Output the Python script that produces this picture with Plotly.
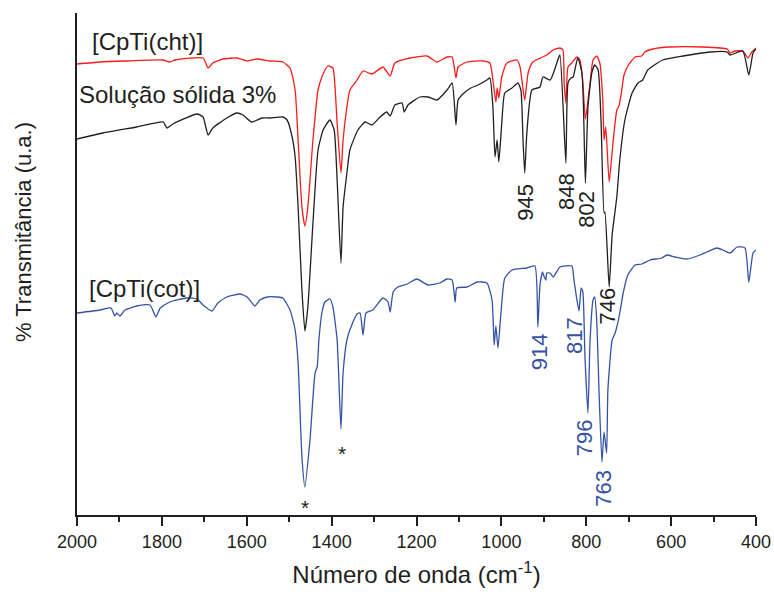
import plotly.graph_objects as go

# FTIR spectra, 2000-400 cm-1, stacked with vertical offsets (arbitrary units)

# [CpTi(cht)] - red trace
cht_wn = [2000, 1946, 1887, 1797, 1781, 1769, 1703, 1691, 1680, 1656, 1623, 1599, 1576, 1545, 1515,
          1498, 1486, 1479, 1470, 1463, 1456, 1444, 1432, 1423, 1409, 1397, 1392, 1387, 1378, 1373,
          1364, 1357, 1340, 1326, 1305, 1279, 1262, 1251, 1215, 1175, 1152, 1128, 1116, 1107, 1102,
          1081, 1043, 1027, 1020, 1013, 1010, 1006, 999, 987, 963, 956, 945, 937, 926, 893, 878,
          862, 855, 852, 848, 843, 834, 822, 815, 808, 802, 791, 784, 775, 768, 761, 758, 754, 746,
          737, 728, 723, 718, 711, 702, 685, 669, 662, 643, 603, 525, 468, 461, 449, 431, 419, 410, 400]
cht_t = [451, 453, 454, 455, 453, 455, 457, 447, 452, 456, 457, 454, 456, 454, 453,
         447, 425, 375, 308, 289, 308, 375, 425, 438, 449, 447, 428, 392, 342, 375,
         408, 425, 435, 444, 441, 448, 439, 452, 457, 459, 453, 458, 458, 437, 448,
         453, 454, 452, 435, 413, 427, 417, 438, 452, 455, 448, 415, 442, 453, 460, 465,
         467, 465, 432, 412, 448, 452, 458, 455, 432, 396, 432, 455, 459, 452, 415, 375, 388, 333,
         372, 405, 409, 420, 440, 449, 458, 459, 463, 466, 468, 468, 466, 462, 464, 464, 457, 463, 467]

# Solução sólida 3% - black trace
sol_wn = [2000, 1939, 1859, 1797, 1788, 1774, 1717, 1703, 1691, 1680, 1647, 1623, 1609, 1588, 1564,
          1545, 1515, 1505, 1493, 1486, 1479, 1470, 1463, 1456, 1444, 1432, 1420, 1404, 1394, 1387,
          1378, 1373, 1364, 1357, 1338, 1321, 1305, 1286, 1270, 1262, 1251, 1234, 1229, 1220, 1192,
          1173, 1152, 1128, 1116, 1107, 1102, 1088, 1072, 1055, 1034, 1027, 1020, 1015, 1010, 1006,
          999, 992, 975, 961, 954, 949, 945, 940, 928, 909, 902, 885, 867, 862, 848, 843, 836, 831,
          820, 810, 802, 796, 787, 780, 772, 765, 758, 756, 746, 739, 728, 721, 709, 692, 678, 667,
          655, 620, 572, 508, 468, 461, 431, 417, 407, 400]
sol_t = [376, 382, 388, 393, 387, 391, 401, 398, 380, 387, 397, 402, 400, 393, 397,
         397, 398, 395, 378, 358, 308, 225, 184, 208, 292, 365, 385, 395, 385, 335,
         252, 308, 342, 365, 385, 393, 390, 398, 403, 399, 410, 412, 403, 410, 418,
         418, 415, 425, 432, 390, 415, 422, 427, 430, 435, 437, 408, 358, 375, 353,
         392, 422, 427, 432, 425, 375, 342, 382, 425, 428, 438, 435, 455, 460, 352, 432, 437, 438,
         457, 442, 332, 408, 442, 450, 445, 392, 302, 303, 228, 280, 318, 355, 395, 422, 432, 435,
         445, 455, 459, 463, 463, 460, 464, 440, 462, 466]

# [CpTi(cot)] - blue trace
cot_wn = [2000, 1946, 1920, 1911, 1906, 1899, 1887, 1859, 1828, 1814, 1804, 1781, 1741, 1717, 1703,
          1682, 1668, 1647, 1616, 1599, 1581, 1569, 1552, 1529, 1515, 1498, 1486, 1479, 1470, 1463,
          1451, 1439, 1434, 1430, 1423, 1416, 1404, 1397, 1387, 1378, 1373, 1364, 1357, 1340, 1333,
          1326, 1319, 1303, 1279, 1267, 1262, 1255, 1244, 1222, 1199, 1173, 1145, 1128, 1116, 1109,
          1105, 1081, 1057, 1034, 1022, 1017, 1013, 1008, 1001, 992, 975, 940, 921, 914, 909, 903,
          899, 895, 893, 885, 878, 862, 834, 829, 822, 817, 812, 808, 803, 796, 791, 784, 780, 775,
          770, 763, 758, 752, 749, 739, 732, 728, 721, 713, 702, 685, 669, 650, 622, 610, 591, 563,
          532, 516, 492, 478, 461, 445, 426, 417, 407, 400]
cot_t = [202, 205, 207, 199, 202, 199, 205, 209, 210, 198, 207, 213, 217, 216, 210,
         204, 212, 218, 221, 218, 209, 215, 218, 218, 217, 205, 185, 152, 58, 28,
         75, 142, 148, 175, 202, 213, 216, 208, 175, 86, 142, 175, 185, 201, 202,
         180, 202, 205, 217, 213, 203, 223, 228, 231, 236, 230, 232, 236, 235, 213,
         227, 228, 233, 232, 215, 170, 189, 167, 202, 237, 245, 247, 249, 188, 230, 243,
         238, 235, 242, 242, 238, 248, 249, 235, 215, 204, 227, 223, 158, 102, 175, 215, 218, 192,
         125, 53, 83, 62, 125, 175, 182, 188, 202, 222, 240, 250, 251, 255, 257, 260, 258, 256,
         260, 263, 267, 265, 262, 268, 267, 233, 262, 265]

# Band labels (text, x position, y position)
sol_band_text = ["945", "848", "802", "746"]
sol_band_x = [945, 848, 801, 750]
sol_band_y = [313, 324, 306, 209]

cot_band_text = ["914", "817", "796", "763"]
cot_band_x = [911, 829, 805, 761]
cot_band_y = [163, 180, 77, 27]

star_x = [1463, 1376]
star_y = [8, 62]

series_names = ["[CpTi(cht)]", "Solução sólida 3%", "[CpTi(cot)]"]
series_label_x = [1833, 1763, 1842]
series_label_y = [474, 421, 227]

RED = "#ff1a1a"
BLACK = "#231f20"
BLUE = "#3552a5"
FONT = "Liberation Sans, Arial, sans-serif"

fig = go.Figure()
for wn, t, col, name in [(cht_wn, cht_t, RED, series_names[0]),
                         (sol_wn, sol_t, BLACK, series_names[1]),
                         (cot_wn, cot_t, BLUE, series_names[2])]:
    fig.add_trace(go.Scatter(x=wn, y=t, mode="lines", name=name,
                             line=dict(color=col, width=1.3, shape="spline", smoothing=0.5),
                             showlegend=False))

annotations = []
for txt, x, y in zip(series_names, series_label_x, series_label_y):
    annotations.append(dict(x=x, y=y, text=txt, showarrow=False, xanchor="center", yanchor="middle",
                            font=dict(family=FONT, size=24, color=BLACK)))
for txt, x, y in zip(sol_band_text, sol_band_x, sol_band_y):
    annotations.append(dict(x=x, y=y, text=txt, showarrow=False, textangle=-90,
                            xanchor="center", yanchor="middle",
                            font=dict(family=FONT, size=22, color=BLACK)))
for txt, x, y in zip(cot_band_text, cot_band_x, cot_band_y):
    annotations.append(dict(x=x, y=y, text=txt, showarrow=False, textangle=-90,
                            xanchor="center", yanchor="middle",
                            font=dict(family=FONT, size=22, color=BLUE)))
for x, y in zip(star_x, star_y):
    annotations.append(dict(x=x, y=y, text="*", showarrow=False, xanchor="center", yanchor="middle",
                            font=dict(family=FONT, size=21, color=BLACK)))

# y-axis title, placed slightly above the axis midpoint
annotations.append(dict(xref="paper", yref="paper", x=-0.0795, y=0.5637,
                        text="% Transmitância (u.a.)", showarrow=False, textangle=-90,
                        xanchor="center", yanchor="middle",
                        font=dict(family=FONT, size=22, color=BLACK)))

fig.update_layout(
    width=774, height=594,
    margin=dict(l=77, r=18, t=13, b=79, autoexpand=False),
    paper_bgcolor="white", plot_bgcolor="white",
    font=dict(family=FONT, color=BLACK),
    annotations=annotations,
    xaxis=dict(
        range=[2000, 400], autorange=False, automargin=False,
        tickmode="linear", tick0=0, dtick=200,
        ticks="outside", ticklen=9, tickwidth=2, tickcolor=BLACK,
        minor=dict(dtick=100, ticks="outside", ticklen=5, tickwidth=2, tickcolor=BLACK),
        showline=True, linewidth=2, linecolor=BLACK,
        showgrid=False, zeroline=False,
        tickfont=dict(family=FONT, size=18, color=BLACK),
        title=dict(text="Número de onda (cm<sup>-1</sup>)", font=dict(family=FONT, size=24, color=BLACK),
                   standoff=16),
    ),
    yaxis=dict(
        range=[0, 502], autorange=False, automargin=False,
        showline=True, linewidth=2, linecolor=BLACK,
        showticklabels=False, ticks="", showgrid=False, zeroline=False,
    ),
)

fig.write_html("out.html")
